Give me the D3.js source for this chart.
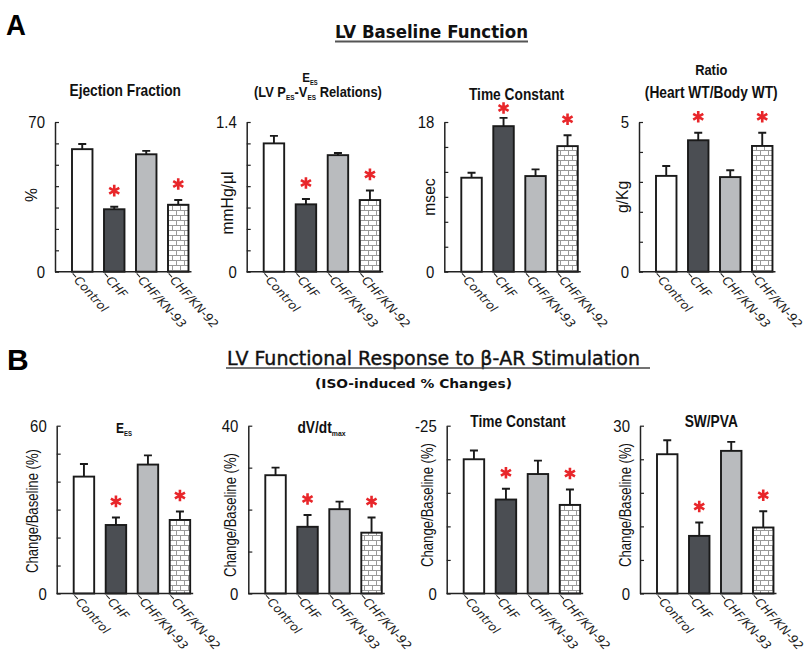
<!DOCTYPE html>
<html><head><meta charset="utf-8">
<script src="https://cdn.jsdelivr.net/npm/d3@7"></script>
<style>
html,body{margin:0;padding:0;background:#fff;}
svg{display:block;}
</style></head>
<body>
<svg id="chart" width="804" height="652"></svg>
<script>
// ---------- data ----------
const categories = ["Control", "CHF", "CHF/KN-93", "CHF/KN-92"];
const significant = [false, true, false, true];

// Panel A: LV baseline function
const efMean    = [57.3, 29.2, 54.9, 31.3];
const efErr     = [2.4, 1.2, 1.6, 2.2];
const eesMean   = [1.20, 0.63, 1.09, 0.67];
const eesErr    = [0.07, 0.05, 0.02, 0.09];
const tauMean   = [11.3, 17.5, 11.5, 15.1];
const tauErr    = [0.6, 1.0, 0.8, 1.3];
const ratioMean = [3.20, 4.39, 3.16, 4.20];
const ratioErr  = [0.33, 0.25, 0.23, 0.44];

// Panel B: ISO-induced % changes
const eesPctMean  = [41.8, 24.5, 46.1, 26.3];
const eesPctErr   = [4.5, 2.7, 3.3, 3.0];
const dvdtMean    = [28.2, 15.9, 20.1, 14.5];
const dvdtErr     = [1.8, 2.8, 1.8, 3.6];
const tauPctMean  = [-20.0, -14.0, -17.8, -13.2];
const tauPctErr   = [-1.3, -1.6, -2.0, -2.3];
const swpvaMean   = [24.9, 10.3, 25.5, 11.8];
const swpvaErr    = [2.5, 2.4, 1.6, 2.9];

// y-axis tick values
const efTicks    = [0,10,20,30,40,50,60,70];
const eesTicks   = [0,0.2,0.4,0.6,0.8,1.0,1.2,1.4];
const tauTicks   = [0,3,6,9,12,15,18];
const ratioTicks = [0,1,2,3,4,5];
const eesPctTicks = [0,10,20,30,40,50,60];
const dvdtTicks   = [0,10,20,30,40];
const tauPctTicks = [0,-5,-10,-15,-20,-25];
const swpvaTicks  = [0,6,12,18,24,30];

const tickLabelsA = [["0","70"],["0","1.4"],["0","18"],["0","5"]];
const tickLabelsB = [["0","60"],["0","40"],["0","-25"],["0","30"]];

// ---------- layout ----------
const svg = d3.select("#chart");
const SANS = '"Liberation Sans",Arial,sans-serif';
const COMIC = '"DejaVu Sans",sans-serif';

const defs = svg.append("defs");
const pat = defs.append("pattern").attr("id","brick").attr("patternUnits","userSpaceOnUse")
  .attr("width",8).attr("height",10);
pat.append("rect").attr("width",8).attr("height",10).attr("fill","#fff");
pat.append("path").attr("d","M0,0.5H8M0,5.5H8M0.5,0.5V5.5M4.5,5.5V10")
  .attr("stroke","#9a9a9a").attr("stroke-width",1).attr("fill","none");

const fills = ["#ffffff", "#4b4e53", "#b9bbbe", "url(#brick)"];

const panels = [
  {mean:efMean, err:efErr, ticks:efTicks, labels:tickLabelsA[0], ax:55, top:122, zero:271.7,
   ylab:"%", ylx:37, yly:195,
   title:[{y:96, parts:[["Ejection Fraction",0]], size:16, dx:-5}]},
  {mean:eesMean, err:eesErr, ticks:eesTicks, labels:tickLabelsA[1], ax:246.7, top:122, zero:271.7,
   ylab:"mmHg/\u00b5l", ylx:233, yly:203,
   title:[{y:82, parts:[["E",0],["ES",1]], size:13.5, dx:-12},
          {y:97, parts:[["(LV  P",0],["ES",1],["-V",0],["ES",1],[" Relations)",0]], size:15, dx:-4}]},
  {mean:tauMean, err:tauErr, ticks:tauTicks, labels:tickLabelsA[2], ax:444.3, top:122, zero:271.7,
   ylab:"msec", ylx:435, yly:197,
   title:[{y:100, parts:[["Time Constant",0]], size:16, dx:-3}]},
  {mean:ratioMean, err:ratioErr, ticks:ratioTicks, labels:tickLabelsA[3], ax:639, top:122, zero:271.7,
   ylab:"g/Kg", ylx:628, yly:197,
   title:[{y:75, parts:[["Ratio",0]], size:15, dx:-3},
          {y:98, parts:[["(Heart WT/Body WT)",0]], size:16, dx:-3}]},
  {mean:eesPctMean, err:eesPctErr, ticks:eesPctTicks, labels:tickLabelsB[0], ax:56.7, top:425.7, zero:593.5,
   ylab:"Change/Baseline (%)", ylx:38, yly:511,
   title:[{y:433, parts:[["E",0],["ES",1]], size:14, dx:-8}]},
  {mean:dvdtMean, err:dvdtErr, ticks:dvdtTicks, labels:tickLabelsB[1], ax:248.3, top:425.7, zero:593.5,
   ylab:"Change/Baseline (%)", ylx:236, yly:515,
   title:[{y:433, parts:[["dV/dt",0],["max",1]], size:16, dx:-2}]},
  {mean:tauPctMean, err:tauPctErr, ticks:tauPctTicks, labels:tickLabelsB[2], ax:446.7, top:425.7, zero:593.5,
   ylab:"Change/Baseline (%)", ylx:433, yly:505,
   title:[{y:427, parts:[["Time Constant",0]], size:16, dx:-4}]},
  {mean:swpvaMean, err:swpvaErr, ticks:swpvaTicks, labels:tickLabelsB[3], ax:640, top:425.7, zero:593.5,
   ylab:"Change/Baseline (%)", ylx:631, yly:505,
   title:[{y:427, parts:[["SW/PVA",0]], size:16, dx:-4}]}
];

function rich(sel, x, y, parts, size) {
  const t = sel.append("text").attr("transform", `translate(${x},${y}) scale(0.86,1)`)
    .attr("text-anchor","middle")
    .style("font-family", SANS).style("font-weight","bold").style("font-size", size+"px").attr("fill","#111");
  let prevSub = false;
  parts.forEach(([s, sub]) => {
    const ts = t.append("tspan").text(s);
    if (sub && !prevSub) ts.attr("dy", 3);
    else if (!sub && prevSub) ts.attr("dy", -3);
    if (sub) ts.style("font-size", (size*0.5)+"px");
    prevSub = !!sub;
  });
  return t;
}

panels.forEach((p, pi) => {
  const g = svg.append("g");
  const lo = d3.min(p.ticks), hi = d3.max(p.ticks);
  const dom = p.ticks[p.ticks.length-1] < 0 ? [0, lo] : [0, hi];
  const y = d3.scaleLinear().domain(dom).range([p.zero, p.top]);
  const step = 32, pad = 0.36;
  const x = d3.scaleBand().domain(categories)
    .range([p.ax + 17, p.ax + 17 + step*(categories.length - pad)]).paddingInner(pad).paddingOuter(0);

  // y axis
  const yAxis = d3.axisLeft(y).tickValues(p.ticks).tickSize(-4).tickSizeOuter(0).tickFormat("");
  const ya = g.append("g").attr("transform", `translate(${p.ax},0)`).call(yAxis);
  ya.select(".domain").attr("stroke","#222").attr("stroke-width",1.5);
  ya.selectAll(".tick line").attr("stroke","#222").attr("stroke-width",1.2);

  // tick labels (only first & last)
  [[dom[0], p.labels[0]], [dom[1], p.labels[1]]].forEach(([v, s]) => {
    g.append("text").attr("transform", `translate(${p.ax - 10},${y(v)}) scale(0.88,1)`)
      .attr("dy","0.36em").attr("text-anchor","end").style("font-family", SANS).style("font-size","17px")
      .attr("fill","#111").text(s);
  });

  // bars
  const data = categories.map((c, i) => ({c, i, m: p.mean[i], e: p.err[i], s: significant[i]}));
  g.selectAll("rect.bar").data(data).join("rect").attr("class","bar")
    .attr("x", d => x(d.c)).attr("width", x.bandwidth())
    .attr("y", d => y(d.m)).attr("height", d => y(0) - y(d.m))
    .attr("fill", d => fills[d.i]).attr("stroke","#1a1a1a").attr("stroke-width",1.9);

  // error bars
  const cap = 4;
  g.selectAll("path.err").data(data).join("path").attr("class","err")
    .attr("d", d => {
      const cx = x(d.c) + x.bandwidth()/2;
      const y1 = y(d.m), y2 = y(d.m + d.e);
      return `M${cx},${y1}V${y2}M${cx-cap},${y2}H${cx+cap}`;
    }).attr("stroke","#1a1a1a").attr("stroke-width",1.9).attr("fill","none");

  // baseline (x axis)
  g.append("line").attr("x1", p.ax).attr("x2", x.range()[1] + 3)
    .attr("y1", y(0)).attr("y2", y(0)).attr("stroke","#222").attr("stroke-width",1.5);

  // significance stars
  const star = d3.symbol().type(d3.symbolAsterisk).size(95);
  g.selectAll("path.star").data(data.filter(d => d.s)).join("path").attr("class","star")
    .attr("transform", d => `translate(${x(d.c) + x.bandwidth()/2},${Math.max(y(d.m + d.e) - 16, p.top - 14)})`)
    .attr("d", star).attr("stroke","#e8262a").attr("stroke-width",2.6).attr("fill","none");

  // category labels (rotated, italic)
  data.forEach(d => {
    const lx = x(d.c), ly = y(0) + 1;
    const lg = g.append("g").attr("transform", `translate(${lx},${ly}) rotate(48)`);
    lg.append("line").attr("x1",1).attr("x2",6).attr("y1",0).attr("y2",0).attr("stroke","#222").attr("stroke-width",1);
    lg.append("text").attr("x", 7).attr("y", 0).attr("dy","0.35em")
      .style("font-family", COMIC).style("font-style","italic").style("font-size","12px")
      .attr("fill","#222").text(d.c);
  });

  // y label
  g.append("text").attr("transform", `translate(${p.ylx},${p.yly}) rotate(-90) scale(${pi < 4 ? 0.92 : 0.82},1)`)
    .attr("text-anchor","middle").style("font-family", SANS).style("font-size", pi < 4 ? "17px" : "16px")
    .attr("fill","#111").text(p.ylab);

  // titles
  const cx = x.range()[0] + (x.range()[1]-x.range()[0])/2;
  p.title.forEach(t => rich(g, cx + (t.dx||0), t.y, t.parts, t.size));
});

// ---------- section headings ----------
svg.append("text").attr("transform","translate(6,35) scale(0.95,1)").style("font-family",SANS)
  .style("font-weight","bold").style("font-size","29px").attr("fill","#000").text("A");
svg.append("text").attr("x", 7).attr("y", 370).style("font-family",SANS)
  .style("font-weight","bold").style("font-size","30px").attr("fill","#000").text("B");

svg.append("text").attr("x", 335).attr("y", 38).style("font-family", COMIC)
  .style("font-weight","bold").style("font-size","17px").attr("fill","#111")
  .attr("textLength", 193).attr("lengthAdjust","spacingAndGlyphs").text("LV Baseline Function");
svg.append("line").attr("x1",335).attr("x2",528).attr("y1",41.5).attr("y2",41.5)
  .attr("stroke","#555").attr("stroke-width",2);

svg.append("text").attr("x", 227).attr("y", 365).style("font-family", COMIC)
  .style("font-size","19px").style("stroke","#111").style("stroke-width","0.4px").attr("fill","#111")
  .attr("textLength", 413).attr("lengthAdjust","spacingAndGlyphs").text("LV Functional Response to \u03b2-AR Stimulation");
svg.append("line").attr("x1",226).attr("x2",650).attr("y1",368).attr("y2",368)
  .attr("stroke","#444").attr("stroke-width",1.5);
svg.append("text").attr("x", 315).attr("y", 388).style("font-family", COMIC)
  .style("font-weight","bold").style("font-size","13px").attr("fill","#111")
  .attr("textLength", 197).attr("lengthAdjust","spacingAndGlyphs").text("(ISO-induced % Changes)");
</script>
</body></html>
